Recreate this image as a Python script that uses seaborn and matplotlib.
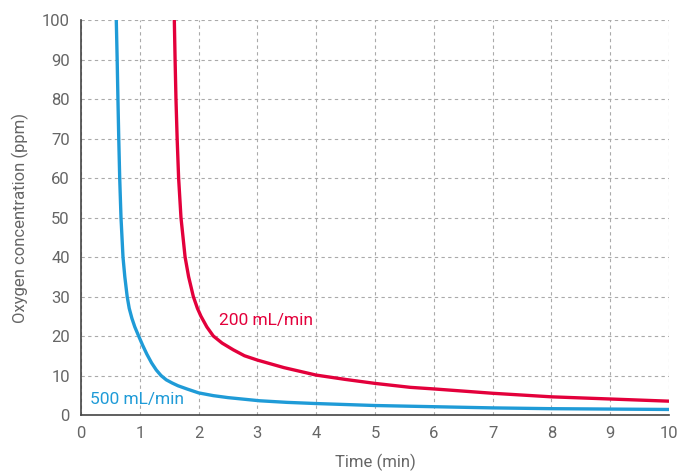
import numpy as np
import pandas as pd
import seaborn as sns
import matplotlib.pyplot as plt

# curves
time_500 = [0.600, 0.615, 0.628, 0.642, 0.658, 0.680, 0.714, 0.745, 0.785, 0.82, 0.865, 0.915,
            0.98, 1.05, 1.12, 1.20, 1.28, 1.36, 1.45, 1.55, 1.65, 1.80, 2.00, 2.25, 2.50,
            3.04, 3.50, 4.00, 5.00, 6.00, 7.00, 8.00, 9.00, 10.0]
oxy_500 = [100, 90, 80, 70, 60, 50, 40, 35, 30, 27, 24.5, 22.3,
           20, 17.6, 15.4, 13.2, 11.4, 10.0, 8.9, 8.1, 7.4, 6.6, 5.6, 4.9, 4.4,
           3.6, 3.2, 2.9, 2.4, 2.1, 1.8, 1.6, 1.5, 1.4]
time_200 = [1.587, 1.600, 1.615, 1.635, 1.660, 1.700, 1.770, 1.83, 1.91, 1.98, 2.04, 2.14,
            2.25, 2.40, 2.59, 2.78, 3.00, 3.45, 4.00, 4.50, 5.00, 5.60, 6.00, 7.00,
            8.00, 9.00, 10.0]
oxy_200 = [100, 90, 80, 70, 60, 50, 40, 35, 30, 27, 25, 22.3,
           20, 18.2, 16.5, 15.0, 13.9, 12.0, 10.1, 9.0, 8.0, 7.0, 6.6, 5.5,
           4.6, 4.05, 3.5]
x_ticks = list(range(0, 11))
y_ticks = list(range(0, 101, 10))

blue = "#1f9bd7"
red = "#e3003b"
grey = "#666666"

sns.set_style("white")
plt.rcParams['font.family'] = ['Roboto', 'DejaVu Sans']

fig = plt.figure(figsize=(6.79, 4.71), dpi=100)
ax = fig.add_axes([0.1193, 0.1189, 0.866, 0.8386])

df500 = pd.DataFrame({"t": time_500, "o": oxy_500})
df200 = pd.DataFrame({"t": time_200, "o": oxy_200})
sns.lineplot(data=df500, x="t", y="o", color=blue, lw=2.4, ax=ax, zorder=3)
sns.lineplot(data=df200, x="t", y="o", color=red, lw=2.4, ax=ax, zorder=3)

ax.set_xlim(0, 10)
ax.set_ylim(0, 100)
ax.set_xticks(x_ticks)
ax.set_yticks(y_ticks)
ax.grid(True, color="#aaaaaa", linestyle=(0, (3, 3)), lw=0.8)
for s in ["top", "right"]:
    ax.spines[s].set_visible(False)
for s in ["left", "bottom"]:
    ax.spines[s].set_color("#444444")
    ax.spines[s].set_linewidth(1.2)
ax.tick_params(colors=grey, labelsize=12, length=0, pad=8)
ax.set_xlabel("Time (min)", color=grey, fontsize=12, labelpad=9)
ax.set_ylabel("Oxygen concentration (ppm)", color=grey, fontsize=12, labelpad=9)

ax.text(2.35, 24, "200 mL/min", color=red, fontsize=12.5, va="center", ha="left", zorder=4)
ax.text(0.15, 3.8, "500 mL/min", color=blue, fontsize=12.5, va="center", ha="left", zorder=4)

fig.savefig("out.png", dpi=100)
